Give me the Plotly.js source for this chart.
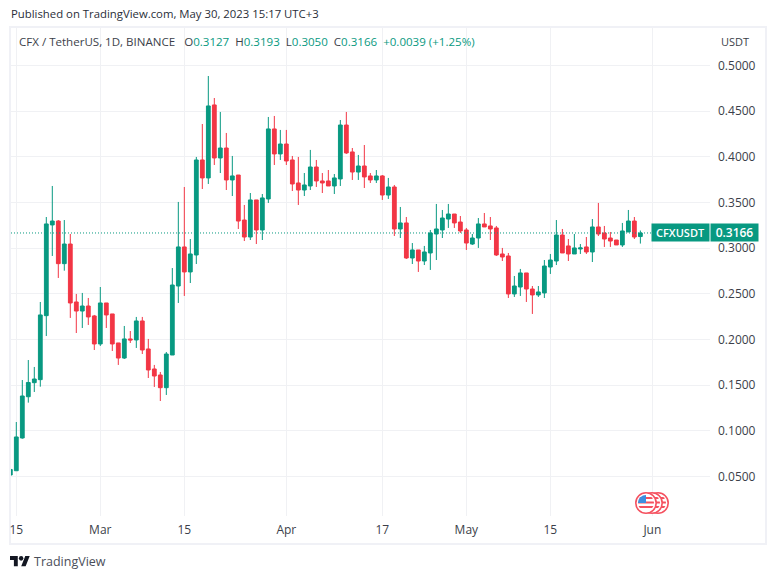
<!DOCTYPE html>
<html><head><meta charset="utf-8">
<script src="https://cdn.plot.ly/plotly-3.0.1.min.js"></script>
<style>html,body{margin:0;padding:0;background:#fff}#c{width:776px;height:579px}</style>
</head><body><div id="c"></div>
<script>
const dates=["2023-02-14","2023-02-15","2023-02-16","2023-02-17","2023-02-18","2023-02-19","2023-02-20","2023-02-21","2023-02-22","2023-02-23","2023-02-24","2023-02-25","2023-02-26","2023-02-27","2023-02-28",
"2023-03-01","2023-03-02","2023-03-03","2023-03-04","2023-03-05","2023-03-06","2023-03-07","2023-03-08","2023-03-09","2023-03-10","2023-03-11","2023-03-12","2023-03-13","2023-03-14","2023-03-15","2023-03-16","2023-03-17","2023-03-18","2023-03-19","2023-03-20","2023-03-21","2023-03-22","2023-03-23","2023-03-24","2023-03-25","2023-03-26","2023-03-27","2023-03-28","2023-03-29","2023-03-30","2023-03-31",
"2023-04-01","2023-04-02","2023-04-03","2023-04-04","2023-04-05","2023-04-06","2023-04-07","2023-04-08","2023-04-09","2023-04-10","2023-04-11","2023-04-12","2023-04-13","2023-04-14","2023-04-15","2023-04-16","2023-04-17","2023-04-18","2023-04-19","2023-04-20","2023-04-21","2023-04-22","2023-04-23","2023-04-24","2023-04-25","2023-04-26","2023-04-27","2023-04-28","2023-04-29","2023-04-30",
"2023-05-01","2023-05-02","2023-05-03","2023-05-04","2023-05-05","2023-05-06","2023-05-07","2023-05-08","2023-05-09","2023-05-10","2023-05-11","2023-05-12","2023-05-13","2023-05-14","2023-05-15","2023-05-16","2023-05-17","2023-05-18","2023-05-19","2023-05-20","2023-05-21","2023-05-22","2023-05-23","2023-05-24","2023-05-25","2023-05-26","2023-05-27","2023-05-28","2023-05-29","2023-05-30"];
const open=[.0514,.0561,.0920,.1372,.1526,.1559,.2260,.3254,.3297,.2830,.3045,.2410,.2311,.2366,.2257,
.1950,.2399,.2279,.1961,.1796,.2005,.1994,.2202,.1895,.1676,.1610,.1471,.1829,.2585,.3013,.2739,.2925,.3966,.3769,.4569,.3988,.4097,.3747,.3801,.3308,.3122,.3528,.3199,.3539,.4306,.4032,
.4141,.3966,.3714,.3637,.3681,.3889,.3736,.3736,.3681,.3758,.4349,.4054,.3834,.3900,.3791,.3747,.3791,.3582,.3670,.3210,.3276,.2892,.2980,.2859,.2947,.3155,.3199,.3319,.3374,.3286,
.3199,.3045,.3111,.3265,.3243,.3221,.2936,.2914,.2498,.2574,.2728,.2552,.2487,.2509,.2793,.2859,.3144,.3024,.2936,.2991,.3013,.2958,.3232,.3166,.3111,.3089,.3035,.3177,.3297,.3127];
const high=[.0580,.1095,.1555,.1774,.1698,.2410,.3341,.3681,.3308,.3308,.3155,.2498,.2509,.2454,.2268,
.2574,.2399,.2279,.1961,.2147,.2092,.2246,.2246,.2005,.1720,.1643,.1862,.2782,.3506,.3670,.3100,.3999,.4360,.4886,.4645,.4492,.4262,.4010,.3801,.3473,.3604,.3528,.3593,.4437,.4448,.4295,
.4295,.4010,.3999,.3823,.4076,.3966,.3823,.3856,.3812,.4404,.4492,.4097,.4021,.4130,.3823,.3856,.3801,.3769,.3692,.3451,.3341,.3056,.2980,.3024,.3199,.3484,.3418,.3484,.3374,.3352,
.3221,.3155,.3330,.3385,.3341,.3243,.3002,.2947,.2695,.2772,.2728,.2585,.2585,.2870,.2936,.3308,.3210,.3100,.3155,.3045,.3122,.3319,.3495,.3243,.3177,.3089,.3276,.3418,.3341,.3193];
const low=[.0510,.0561,.0912,.1307,.1424,.1482,.2037,.2914,.2673,.2753,.2235,.2070,.2125,.2158,.1884,
.1928,.2125,.1873,.1720,.1785,.1961,.1906,.1840,.1577,.1479,.1325,.1391,.1829,.2399,.2476,.2618,.2826,.3648,.3703,.3911,.3823,.3637,.3571,.3210,.3078,.3089,.3045,.3089,.3495,.3911,.3966,
.3911,.3626,.3473,.3571,.3637,.3670,.3604,.3681,.3593,.3681,.4032,.3747,.3747,.3659,.3714,.3714,.3528,.3539,.3133,.3111,.2881,.2826,.2739,.2815,.2761,.2870,.3111,.3221,.3221,.3166,
.2980,.3035,.3002,.3232,.3089,.2914,.2859,.2454,.2465,.2476,.2410,.2279,.2465,.2454,.2717,.2815,.2947,.2859,.2936,.2936,.2936,.2848,.3133,.3013,.3013,.3035,.3013,.3177,.3100,.3050];
const close=[.0575,.0931,.1380,.1528,.1566,.2268,.3265,.3297,.2830,.3045,.2399,.2311,.2366,.2246,.1950,
.2399,.2268,.1950,.1796,.2005,.1994,.2202,.1884,.1665,.1599,.1471,.1840,.2596,.3013,.2739,.2936,.3966,.3769,.4558,.3988,.4097,.3747,.3791,.3297,.3122,.3528,.3199,.3550,.4306,.4032,.4141,
.3955,.3703,.3637,.3692,.3889,.3736,.3714,.3681,.3769,.4349,.4043,.3834,.3900,.3780,.3747,.3791,.3582,.3670,.3210,.3276,.2892,.2980,.2859,.2958,.3166,.3210,.3330,.3374,.3276,.3188,
.3056,.3111,.3265,.3232,.3210,.2925,.2903,.2498,.2585,.2728,.2552,.2487,.2520,.2804,.2870,.3144,.2947,.2936,.3002,.3002,.2958,.3232,.3155,.3100,.3078,.3035,.3188,.3297,.3122,.3166];
const priceTicks=[.05,.10,.15,.20,.25,.30,.35,.40,.45,.50];
const dateTicks=["2023-02-15","2023-03-01","2023-03-15","2023-04-01","2023-04-17","2023-05-01","2023-05-15","2023-06-01"];
const dateLabels=["15","Mar","15","Apr","17","May","15","Jun"];
const lastPrice=.3166;

const UP="#089981",DN="#F23645",FONT='"Open Sans","Noto Sans",sans-serif',TXT="#3c3f4a";
const W=776,H=579,L=11,R=710,T=28,B=516;
const px=v=>(v-L)/(R-L), py=v=>(B-v)/(B-T);
const note=(x,y,text,opt)=>Object.assign({xref:"paper",yref:"paper",x:px(x),y:py(y),text:text,showarrow:false,xanchor:"left",yanchor:"middle",align:"left",borderpad:0,font:{family:FONT,size:12,color:TXT}},opt||{});
const frame=(x0,y0,x1,y1)=>({type:"rect",xref:"paper",yref:"paper",x0:px(x0),x1:px(x1),y0:py(y0),y1:py(y1),line:{width:0},fillcolor:"#f0f1f6",layer:"below"});
const v=s=>`<span style="color:${UP}">${s}</span>`;
const coin=(cx,id,front)=>`<clipPath id="${id}"><circle cx="${cx}" cy="12" r="8"/></clipPath><circle cx="${cx}" cy="12" r="10.2" fill="#fff" stroke="#F5515F" stroke-width="1.6"/><g clip-path="url(#${id})"><rect x="${cx-9}" y="3" width="18" height="18" fill="#fff"/><path d="M${cx-9} 7h18M${cx-9} 11.5h18M${cx-9} 16h18" stroke="#F5515F" stroke-width="2.2"/>${front?`<rect x="${cx-9}" y="3" width="9" height="9" fill="#3d8fe0"/>`:""}</g>`;
const flag=encodeURIComponent(`<svg xmlns="http://www.w3.org/2000/svg" width="36" height="24" viewBox="0 0 36 24">${coin(24,"c",false)}${coin(18,"b",false)}${coin(12,"a",true)}</svg>`);
const logo=encodeURIComponent('<svg xmlns="http://www.w3.org/2000/svg" width="72" height="36" viewBox="0 4 36 18"><path fill="#131722" d="M14 22H7V11H0V4h14v18zM28 22h-8l7.5-18h8L28 22z"/><circle fill="#131722" cx="20" cy="8" r="4"/></svg>');

const trace={type:"candlestick",x:dates,open:open,high:high,low:low,close:close,
 increasing:{line:{color:UP,width:1},fillcolor:UP},decreasing:{line:{color:DN,width:1},fillcolor:DN},
 whiskerwidth:0,hoverinfo:"skip",showlegend:false};
const sp=" ";
const layout={width:W,height:H,paper_bgcolor:"#fff",plot_bgcolor:"#fff",showlegend:false,
 margin:{l:L,r:W-R,t:T,b:H-B,pad:0},boxgap:0.1,font:{family:FONT,size:12,color:TXT},
 xaxis:{type:"date",range:["2023-02-14 02:48","2023-06-10 14:30"],tickmode:"array",tickvals:dateTicks,ticktext:dateLabels,
  showgrid:true,gridcolor:"#f0f1f4",gridwidth:1,zeroline:false,showline:false,ticks:"",rangeslider:{visible:false},
  ticklabelstandoff:5,tickfont:{family:FONT,size:12,color:TXT},fixedrange:true},
 yaxis:{side:"right",range:[.0065,.5412],tickmode:"array",tickvals:priceTicks,tickformat:".4f",
  showgrid:true,gridcolor:"#f0f1f4",gridwidth:1,zeroline:false,showline:false,ticks:"",
  ticklabelstandoff:7,tickfont:{family:FONT,size:12,color:TXT},fixedrange:true},
 shapes:[frame(9,26,767,28),frame(9,543,767,545),frame(9,26,11,545),frame(765,26,767,545),
  {type:"line",xref:"paper",yref:"y",x0:0,x1:1,y0:lastPrice,y1:lastPrice,line:{color:UP,width:1,dash:"1px,2px"}}],
 images:[
  {source:"data:image/svg+xml,"+flag,xref:"paper",yref:"paper",x:px(634),y:py(491),sizex:36/(R-L),sizey:24/(B-T),sizing:"stretch",xanchor:"left",yanchor:"top",layer:"above"},
  {source:"data:image/svg+xml,"+logo,xref:"paper",yref:"paper",x:px(10),y:py(556),sizex:20/(R-L),sizey:10.5/(B-T),sizing:"stretch",xanchor:"left",yanchor:"top",layer:"above"}],
 annotations:[
  note(10,14,"Published on TradingView.com, May 30, 2023 15:17 UTC+3",{font:{family:FONT,size:11.35,color:"#2a2e39"}}),
  note(18,41,`CFX / TetherUS, 1D, BINANCE${sp}${sp} O${v("0.3127")}${sp}${sp}H${v("0.3193")}${sp}${sp}L${v("0.3050")}${sp}${sp}C${v("0.3166")}${sp}${sp}${v("+0.0039 (+1.25%)")}`,{font:{family:FONT,size:11.55,color:TXT}}),
  note(720,41,"USDT",{font:{family:FONT,size:11,color:TXT}}),
  note(651,232.5,"CFXUSDT",{bgcolor:UP,font:{family:FONT,size:11,color:"#fff",weight:600},width:57,height:17,align:"center"}),
  note(710,232.5,"0.3166",{bgcolor:UP,font:{family:FONT,size:12,color:"#fff",weight:600},width:47,height:17,align:"center"}),
  note(33,561,"TradingView",{font:{family:FONT,size:12.5,color:"#4a4e59"}})
 ]};
Plotly.newPlot("c",[trace],layout,{displayModeBar:false,staticPlot:true});
</script></body></html>
